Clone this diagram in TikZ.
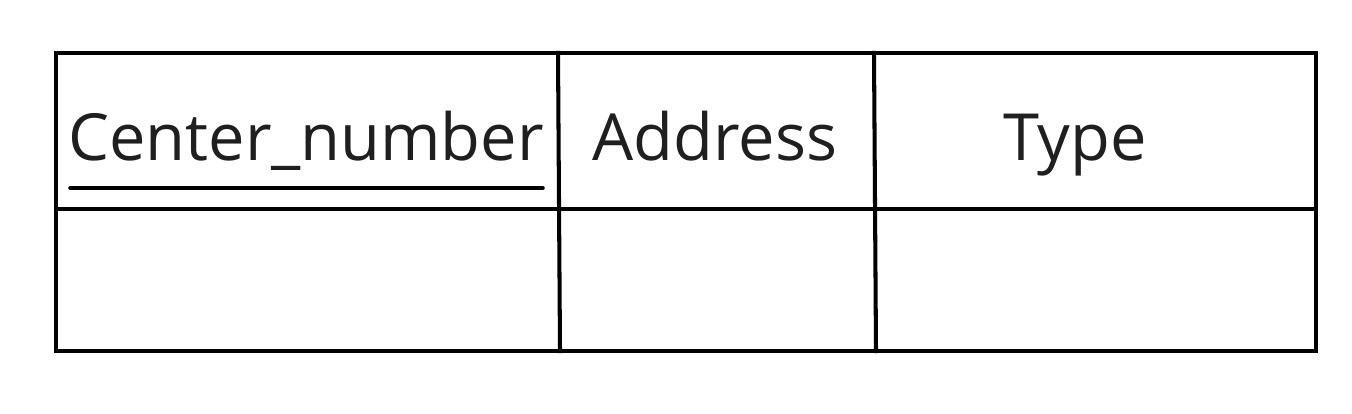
\documentclass[tikz,border=0pt]{standalone}
\usepackage{fontspec}
\setmainfont{Open Sans}
\tikzset{x=0.02cm, y=-0.02cm,
    grid line/.style={line width=2.3pt, line cap=rect},
    attr/.style={text=black!88, font=\fontsize{37}{44}\selectfont, inner sep=0pt, anchor=base},
    }
\begin{document}
\begin{tikzpicture}
	\useasboundingbox (0,0) rectangle (1352,413);
	% outline of the table
	\coordinate (nw) at (56,53);
	\coordinate (se) at (1316,351);
	\draw[grid line] (nw) rectangle (se);
	% row and column rules
	\coordinate (rowL) at (56,209);
	\coordinate (rowR) at (1316,209);
	\draw[grid line] (rowL) -- (rowR);
	\coordinate (colAtop) at (558,53);
	\coordinate (colAbot) at (560,351);
	\draw[grid line] (colAtop) -- (colAbot);
	\coordinate (colBtop) at (874,53);
	\coordinate (colBbot) at (876,351);
	\draw[grid line] (colBtop) -- (colBbot);
	% attribute names
	\node[attr] (center) at (306,160) {Center\_number};
	\node[attr] (address) at (715,160) {Address};
	\node[attr] (type) at (1075,160) {Type};
	% key underline
	\coordinate (keyL) at (70,188);
	\coordinate (keyR) at (543,188);
	\draw[line width=2pt, line cap=round] (keyL) -- (keyR);
\end{tikzpicture}
\end{document}
